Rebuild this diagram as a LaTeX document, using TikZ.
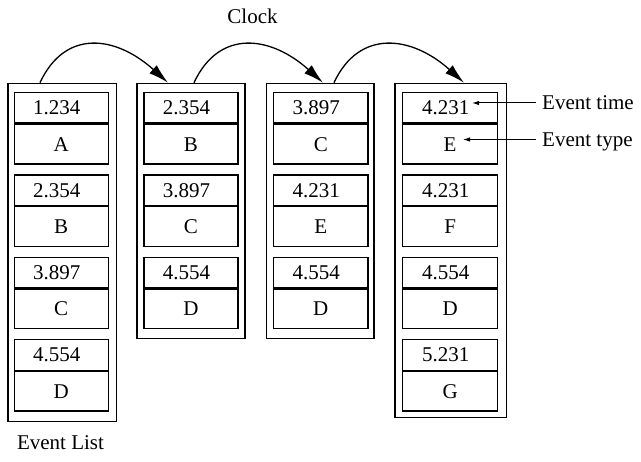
\documentclass[tikz,border=0pt]{standalone}
\usepackage{fontspec}
\setmainfont{Liberation Serif}
\usetikzlibrary{arrows.meta}

% one column of the event list: #1 column id, #2 left x of the cells,
% #3 cell width, #4 list of time/type pairs
\newcommand\eventcells[4]{%
  \foreach \tm/\ty [count=\r from 0] in {#4} {%
    \node[timecell, minimum width=#3pt] (t#1-\r) at (#2,-92-82.4*\r) {\tm\kern9pt};
    \node[typecell, minimum width=#3pt] (e#1-\r) at (t#1-\r.south) {\ty};
  }%
}

\begin{document}
\begin{tikzpicture}[x=1pt,y=1pt,
  every node/.style={font=\fontsize{21}{25}\selectfont},
  listbox/.style={draw, line width=1.5pt, inner sep=0pt, anchor=north west},
  timecell/.style={draw, line width=1.3pt, inner sep=0pt, anchor=north west,
                   minimum height=30.5pt},
  typecell/.style={draw, line width=1.3pt, inner sep=0pt, anchor=north,
                   minimum height=39.5pt},
  clockarc/.style={line width=1.3pt, -{Latex[length=20pt,width=11pt]}},
  pointer/.style={line width=1pt, -{Latex[length=7pt,width=4.5pt]}},
  notetext/.style={inner sep=0pt, text height=14pt, text depth=0pt}
]
\useasboundingbox (0,0) rectangle (641,-462);

% the four successive states of the event list
\node[listbox, minimum width=108.5pt, minimum height=338.3pt] (col1) at (7,-82.7) {};
\node[listbox, minimum width=108pt,   minimum height=255pt]   (col2) at (136,-82.7) {};
\node[listbox, minimum width=107.8pt, minimum height=255pt]   (col3) at (265.5,-82.7) {};
\node[listbox, minimum width=111.5pt, minimum height=334pt]   (col4) at (394,-82.7) {};

\eventcells{1}{13.5}{94}{1.234/A, 2.354/B, 3.897/C, 4.554/D}
\eventcells{2}{143.3}{94}{2.354/B, 3.897/C, 4.554/D}
\eventcells{3}{273}{94.3}{3.897/C, 4.231/E, 4.554/D}
\eventcells{4}{402}{95}{4.231/E, 4.231/F, 4.554/D, 5.231/G}

% clock advancing from one list to the next
\path (col1.north west) ++(33,0)   coordinate (a1);
\path (col2.north west) ++(32,0)   coordinate (b2);
\path (col2.north west) ++(58,0)   coordinate (a2);
\path (col3.north west) ++(57.5,0) coordinate (b3);
\path (col3.north west) ++(68.5,0) coordinate (a3);
\path (col4.north west) ++(70,0)   coordinate (b4);

\draw[clockarc] (a1) to[out=65,in=138,out distance=60pt,in distance=70pt] (b2);
\draw[clockarc] (a2) to[out=65,in=138,out distance=60pt,in distance=70pt] (b3);
\draw[clockarc] (a3) to[out=65,in=138,out distance=60pt,in distance=70pt] (b4);

\node (clock) at (252.5,-16.5) {Clock};
\node (evlist) at (60.5,-443) {Event List};

% annotations of the first record
\node[notetext, anchor=west] (evtime) at (542,-103)   {Event time};
\node[notetext, anchor=west] (evtype) at (542,-139.5) {Event type};
\coordinate (ptime) at (472,-103);
\coordinate (ptype) at (463,-139.5);
\draw[pointer] (evtime.west) ++(-6,0) -- (ptime);
\draw[pointer] (evtype.west) ++(-6,0) -- (ptype);
\end{tikzpicture}
\end{document}
